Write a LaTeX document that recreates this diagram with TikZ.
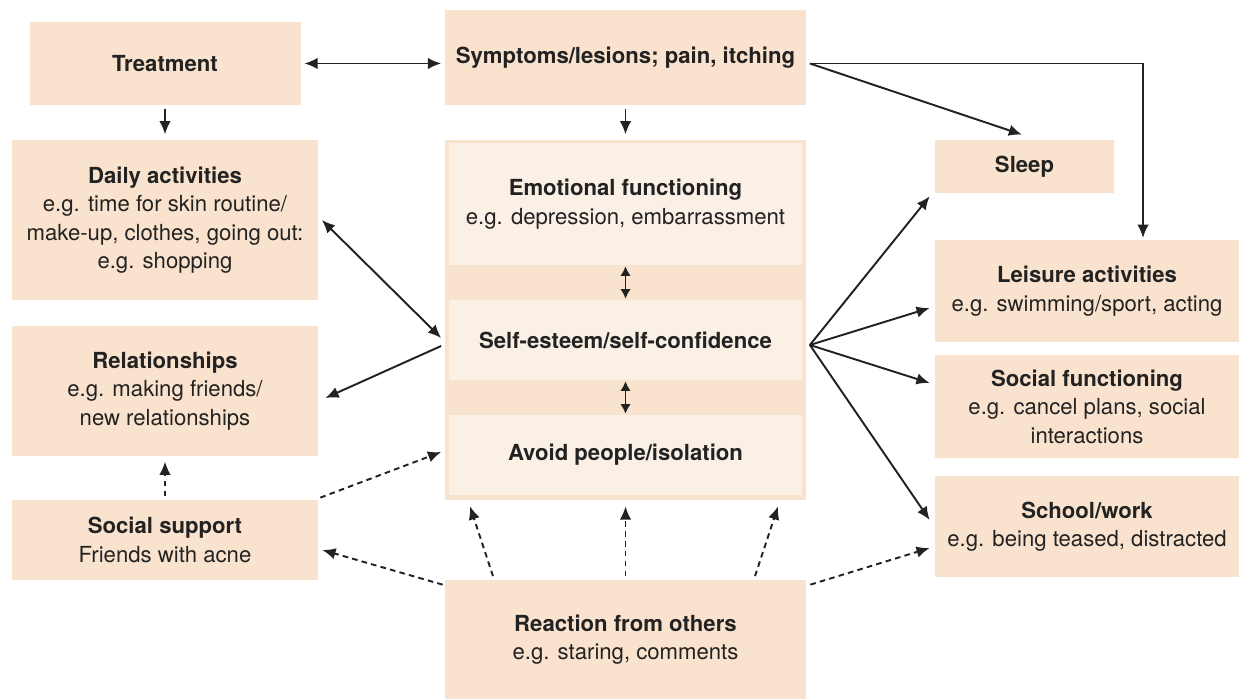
\documentclass[tikz,border=0pt]{standalone}
\usepackage{fontspec}
\setmainfont{TeX Gyre Heros}
\usepackage{xcolor}
\usetikzlibrary{arrows.meta,positioning}

\definecolor{peach}{HTML}{FAE3CE}
\definecolor{cream}{HTML}{FBF0E5}
\definecolor{ink}{HTML}{222222}

\tikzset{
	box/.style={fill=peach,align=center,inner sep=0pt,text=ink,font=\fontsize{12.6}{16.2}\selectfont},
	subbox/.style={box,fill=cream},
	tip/.tip={Latex[length=7.5pt,width=6.5pt]},
	small tip/.tip={Latex[length=5.5pt,width=6pt]},
	conn/.style={-tip,line width=1.1pt,draw=ink},
	dconn/.style={conn,dash pattern=on 3.2pt off 2.4pt},
}

\begin{document}
\begin{tikzpicture}
	\useasboundingbox (0,0) rectangle (24.78,13.98);

	% boxes
	\node[box,minimum width=5.42cm,minimum height=1.66cm] (treat) at (3.30,12.71) {\textbf{Treatment}};
	\node[box,minimum width=7.22cm,minimum height=1.90cm] (symp) at (12.51,12.83) {\textbf{Symptoms/lesions; pain, itching}};
	\node[box,minimum width=6.12cm,minimum height=3.20cm] (daily) at (3.30,9.58) {\textbf{Daily activities}\\e.g. time for skin routine/\\make-up, clothes, going out:\\e.g. shopping};
	\node[box,minimum width=6.12cm,minimum height=2.60cm] (rel) at (3.30,6.16) {\textbf{Relationships}\\e.g. making friends/\\new relationships};
	\node[box,minimum width=6.12cm,minimum height=1.60cm] (supp) at (3.30,3.18) {\textbf{Social support}\\Friends with acne};

	\node[box,minimum width=7.22cm,minimum height=7.20cm] (cont) at (12.51,7.58) {};
	\node[subbox,minimum width=7.06cm,minimum height=2.44cm] (emo) at (12.51,9.90) {\textbf{Emotional functioning}\\e.g. depression, embarrassment};
	\node[subbox,minimum width=7.06cm,minimum height=1.60cm] (self) at (12.51,7.18) {\textbf{Self-esteem/self-confidence}};
	\node[subbox,minimum width=7.06cm,minimum height=1.60cm] (avoid) at (12.51,4.88) {\textbf{Avoid people/isolation}};
	\node[box,minimum width=7.22cm,minimum height=2.38cm] (react) at (12.51,1.19) {\textbf{Reaction from others}\\e.g. staring, comments};

	\node[box,minimum width=3.58cm,minimum height=1.06cm] (sleep) at (20.49,10.65) {\textbf{Sleep}};
	\node[box,minimum width=6.08cm,minimum height=2.04cm] (leis) at (21.74,8.16) {\textbf{Leisure activities}\\e.g. swimming/sport, acting};
	\node[box,minimum width=6.08cm,minimum height=2.06cm] (socf) at (21.74,5.85) {\textbf{Social functioning}\\e.g. cancel plans, social\\interactions};
	\node[box,minimum width=6.08cm,minimum height=2.02cm] (school) at (21.74,3.45) {\textbf{School/work}\\e.g. being teased, distracted};

	\coordinate (sympR) at ([xshift=2pt,yshift=-0.12cm]symp.east);
	\coordinate (fanR) at ([xshift=2pt,yshift=-0.10cm]cont.east |- self.center);

	% solid arrows
	\draw[conn,tip-tip,shorten <=2pt,shorten >=2pt] (treat.east) -- (treat.east -| symp.west);
	\draw[conn,shorten <=2pt,shorten >=3pt] (treat.south) -- (daily.north);
	\draw[conn,shorten <=2pt,shorten >=3pt] (symp.south) -- (cont.north);
	\draw[conn] (sympR) -- ([xshift=-0.05cm,yshift=0.1cm]sleep.north);
	\draw[conn] (sympR) -| ([xshift=1.12cm,yshift=1pt]leis.north);
	\draw[conn,small tip-small tip,shorten <=0.5pt,shorten >=0.5pt] (emo.south) -- (self.north);
	\draw[conn,small tip-small tip,shorten <=0.5pt,shorten >=0.5pt] (self.south) -- (avoid.north);
	\draw[conn,tip-tip] ([xshift=2pt]daily.east) -- ([xshift=-2pt,yshift=-0.36cm]cont.west);
	\draw[conn] ([xshift=-2pt,yshift=-0.52cm]cont.west) -- ([xshift=4pt,yshift=-0.14cm]rel.east);
	\draw[conn] (fanR) -- ([shift={(-0.1,-0.06)}]sleep.south west);
	\draw[conn] (fanR) -- ([shift={(-0.1,-0.34)}]leis.west);
	\draw[conn] (fanR) -- ([shift={(-0.1,0.47)}]socf.west);
	\draw[conn] (fanR) -- ([shift={(-0.1,0.13)}]school.west);

	% dashed arrows
	\draw[dconn,shorten <=2pt,shorten >=3pt] (supp.north) -- (rel.south);
	\draw[dconn] ([shift={(0.04,0.04)}]supp.north east) -- ([xshift=-2pt,yshift=0.06cm]cont.west |- avoid.center);
	\draw[dconn] ([shift={(-0.04,-0.1)}]react.north west) -- ([shift={(0.08,-0.2)}]supp.east);
	\draw[dconn] ([xshift=-2.65cm,yshift=2pt]react.north) -- ([xshift=-3.11cm,yshift=-0.12cm]cont.south);
	\draw[dconn] ([yshift=2pt]react.north) -- ([yshift=-0.12cm]cont.south);
	\draw[dconn] ([xshift=2.59cm,yshift=2pt]react.north) -- ([xshift=3.05cm,yshift=-0.12cm]cont.south);
	\draw[dconn] ([shift={(0.08,-0.1)}]react.north east) -- ([shift={(-0.1,-0.43)}]school.west);
\end{tikzpicture}
\end{document}
